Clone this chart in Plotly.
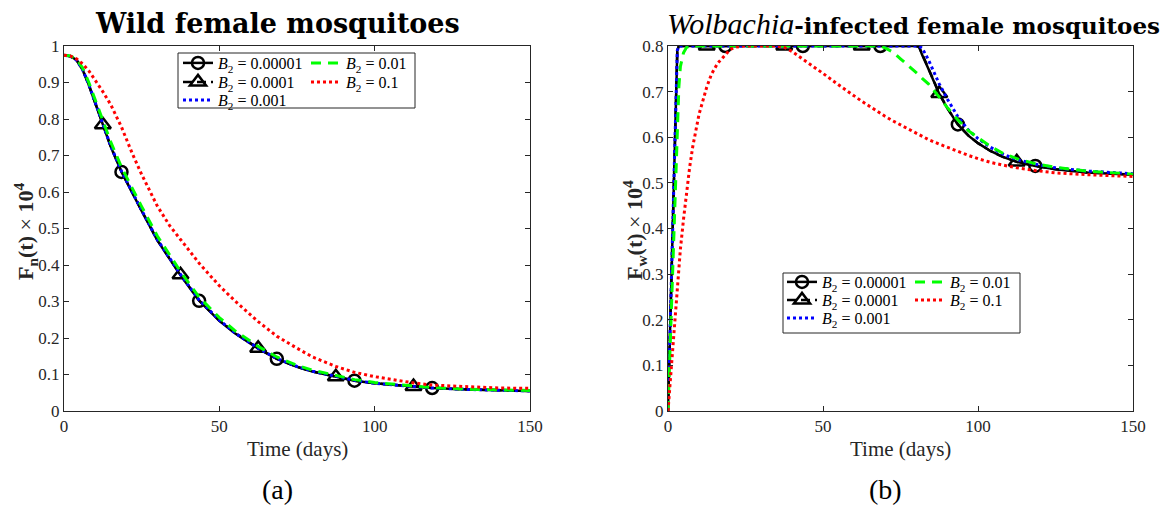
import plotly.graph_objects as go

# ---------------- data ----------------
B2_LABELS = ["<i>B</i><sub>2</sub> = 0.00001", "<i>B</i><sub>2</sub> = 0.0001",
             "<i>B</i><sub>2</sub> = 0.001", "<i>B</i><sub>2</sub> = 0.01",
             "<i>B</i><sub>2</sub> = 0.1"]

# (a) wild female mosquitoes
T_A = [0, 2, 4, 6, 8, 10, 12.5, 15, 18.5, 22, 25, 30, 34, 37.5, 43.5, 50, 55,
       62.5, 68.5, 75, 80, 87.5, 93.5, 100, 112.5, 118.5, 130, 140, 150]
A_B1 = [0.975, 0.972, 0.962, 0.935, 0.893, 0.845, 0.783, 0.725, 0.655, 0.595, 0.548,
        0.468, 0.418, 0.372, 0.302, 0.247, 0.213, 0.171, 0.143, 0.121, 0.108, 0.094,
        0.083, 0.076, 0.067, 0.063, 0.059, 0.056, 0.055]
A_B2 = [0.975, 0.972, 0.962, 0.935, 0.893, 0.845, 0.784, 0.726, 0.656, 0.596, 0.549,
        0.469, 0.419, 0.373, 0.303, 0.248, 0.214, 0.172, 0.143, 0.121, 0.108, 0.094,
        0.083, 0.076, 0.067, 0.063, 0.059, 0.056, 0.055]
A_B3 = [0.975, 0.972, 0.962, 0.935, 0.894, 0.846, 0.785, 0.727, 0.657, 0.597, 0.550,
        0.470, 0.420, 0.374, 0.304, 0.249, 0.214, 0.172, 0.144, 0.122, 0.109, 0.095,
        0.084, 0.076, 0.067, 0.063, 0.059, 0.056, 0.055]
A_B4 = [0.975, 0.973, 0.964, 0.940, 0.900, 0.855, 0.795, 0.738, 0.668, 0.608, 0.560,
        0.480, 0.428, 0.382, 0.312, 0.256, 0.220, 0.177, 0.148, 0.125, 0.112, 0.097,
        0.086, 0.078, 0.068, 0.064, 0.060, 0.057, 0.056]
A_B5 = [0.975, 0.973, 0.965, 0.951, 0.932, 0.908, 0.875, 0.840, 0.778, 0.705, 0.648,
        0.562, 0.508, 0.470, 0.405, 0.343, 0.302, 0.245, 0.205, 0.172, 0.148, 0.122,
        0.106, 0.094, 0.077, 0.071, 0.066, 0.063, 0.062]

# (b) Wolbachia-infected female mosquitoes
T_B = [0, 0.5, 1, 1.5, 2, 2.5, 3, 3.5, 4, 5, 6, 7, 8, 10, 12.5, 14, 16, 18.5, 20, 22,
       25, 30, 35, 37.5, 40, 43.5, 45, 50, 55, 60, 62.5, 65, 68.5, 70, 72.5, 75, 78,
       80, 81, 82, 84, 87.5, 90, 93.5, 97, 100, 104, 108, 112.5, 118.5, 125, 135, 150]
B_B1 = [0, 0.14, 0.29, 0.43, 0.57, 0.70, 0.79, 0.8, 0.8, 0.8, 0.8, 0.8, 0.8, 0.8, 0.8,
        0.8, 0.8, 0.8, 0.8, 0.8, 0.8, 0.8, 0.8, 0.8, 0.8, 0.8, 0.8, 0.8, 0.8, 0.8, 0.8,
        0.8, 0.8, 0.8, 0.8, 0.8, 0.8, 0.8, 0.798, 0.780, 0.750, 0.695, 0.665, 0.628,
        0.603, 0.587, 0.570, 0.557, 0.546, 0.537, 0.530, 0.523, 0.518]
B_B2 = [0, 0.14, 0.29, 0.43, 0.57, 0.70, 0.79, 0.8, 0.8, 0.8, 0.8, 0.8, 0.8, 0.8, 0.8,
        0.8, 0.8, 0.8, 0.8, 0.8, 0.8, 0.8, 0.8, 0.8, 0.8, 0.8, 0.8, 0.8, 0.8, 0.8, 0.8,
        0.8, 0.8, 0.8, 0.8, 0.8, 0.8, 0.8, 0.798, 0.781, 0.751, 0.696, 0.665, 0.628,
        0.603, 0.587, 0.570, 0.557, 0.546, 0.537, 0.530, 0.523, 0.518]
B_B3 = [0, 0.14, 0.29, 0.43, 0.57, 0.70, 0.79, 0.8, 0.8, 0.8, 0.8, 0.8, 0.8, 0.8, 0.8,
        0.8, 0.8, 0.8, 0.8, 0.8, 0.8, 0.8, 0.8, 0.8, 0.8, 0.8, 0.8, 0.8, 0.8, 0.8, 0.8,
        0.8, 0.8, 0.8, 0.8, 0.8, 0.8, 0.8, 0.8, 0.795, 0.770, 0.717, 0.685, 0.645,
        0.615, 0.597, 0.578, 0.563, 0.551, 0.541, 0.533, 0.526, 0.520]
B_B4 = [0, 0.10, 0.21, 0.32, 0.43, 0.54, 0.64, 0.71, 0.755, 0.785, 0.797, 0.8, 0.8,
        0.8, 0.8, 0.8, 0.8, 0.8, 0.8, 0.8, 0.8, 0.8, 0.8, 0.8, 0.8, 0.8, 0.8, 0.8, 0.8,
        0.8, 0.8, 0.8, 0.8, 0.796, 0.787, 0.772, 0.755, 0.742, 0.736, 0.729, 0.717,
        0.688, 0.666, 0.638, 0.614, 0.599, 0.580, 0.565, 0.553, 0.542, 0.534, 0.526,
        0.519]
B_B5 = [0, 0.045, 0.09, 0.135, 0.18, 0.23, 0.275, 0.315, 0.355, 0.42, 0.48, 0.535,
        0.58, 0.65, 0.71, 0.738, 0.762, 0.782, 0.792, 0.798, 0.8, 0.8, 0.8, 0.797,
        0.788, 0.771, 0.764, 0.740, 0.715, 0.690, 0.679, 0.668, 0.652, 0.646, 0.636,
        0.627, 0.615, 0.608, 0.605, 0.601, 0.595, 0.585, 0.578, 0.569, 0.560, 0.553,
        0.545, 0.539, 0.533, 0.527, 0.522, 0.518, 0.514]

CIRCLE_T = [18.5, 43.5, 68.5, 93.5, 118.5]
TRIANGLE_T = [12.5, 37.5, 62.5, 87.5, 112.5]

X_TICKS = [0, 50, 100, 150]
A_Y_TICKS = [0, 0.1, 0.2, 0.3, 0.4, 0.5, 0.6, 0.7, 0.8, 0.9, 1]
B_Y_TICKS = [0, 0.1, 0.2, 0.3, 0.4, 0.5, 0.6, 0.7, 0.8]

# ---------------- styling ----------------
W, H = 1172, 512
SERIF = "Liberation Serif"
AX = "#262626"


def px(x):
    return x / W


def py(y):
    return 1 - y / H


STYLES = [
    dict(color="black", width=2.5, dash="solid", symbol="circle-open", size=12, mt=CIRCLE_T),
    dict(color="black", width=2.5, dash="9px,5px", symbol="triangle-up-open", size=14,
         mt=TRIANGLE_T),
    dict(color="#0000FF", width=3, dash="3px,3px", symbol=None),
    dict(color="#00FF00", width=3, dash="10px,7px", symbol=None),
    dict(color="#FF0000", width=3, dash="3px,3px", symbol=None),
]

fig = go.Figure()


def add_panel(t, series, xa, ya, legs):
    for i, (vals, st) in enumerate(zip(series, STYLES)):
        line = dict(color=st["color"], width=st["width"], dash=st["dash"])
        fig.add_trace(go.Scatter(x=t, y=vals, mode="lines", line=line, xaxis=xa, yaxis=ya,
                                 showlegend=False, hoverinfo="skip"))
        if st["symbol"]:
            mk = dict(symbol=st["symbol"], size=st["size"], color="black",
                      line=dict(color="black", width=2.5))
            idx = [t.index(v) for v in st["mt"]]
            fig.add_trace(go.Scatter(x=[t[k] for k in idx], y=[vals[k] for k in idx],
                                     mode="markers", xaxis=xa, yaxis=ya, showlegend=False,
                                     marker=mk, hoverinfo="skip"))
            fig.add_trace(go.Scatter(x=[None], y=[None], mode="lines+markers", line=line,
                                     marker=mk, name=B2_LABELS[i], legend=legs[i],
                                     xaxis=xa, yaxis=ya))
        else:
            fig.add_trace(go.Scatter(x=[None], y=[None], mode="lines", line=line,
                                     name=B2_LABELS[i], legend=legs[i], xaxis=xa, yaxis=ya))


LEGS_A = ["legend", "legend2", "legend3", "legend4", "legend5"]
LEGS_B = ["legend6", "legend7", "legend8", "legend9", "legend10"]
add_panel(T_A, [A_B1, A_B2, A_B3, A_B4, A_B5], "x", "y", LEGS_A)
add_panel(T_B, [B_B1, B_B2, B_B3, B_B4, B_B5], "x2", "y2", LEGS_B)

axis_common = dict(showline=True, linecolor=AX, linewidth=1, mirror="allticks",
                   ticks="inside", ticklen=5, tickcolor=AX, showgrid=False, zeroline=False,
                   automargin=False, tickfont=dict(family=SERIF, size=17, color=AX))

Y_TOP, Y_BOT = 46, 411
fig.update_layout(
    width=W, height=H, margin=dict(l=0, r=0, t=0, b=0, autoexpand=False),
    paper_bgcolor="white", plot_bgcolor="white",
    xaxis=dict(domain=[px(64), px(530)], range=[0, 150], tickvals=X_TICKS, anchor="y",
               **axis_common),
    yaxis=dict(domain=[py(Y_BOT), py(Y_TOP)], range=[0, 1], tickvals=A_Y_TICKS, anchor="x",
               **axis_common),
    xaxis2=dict(domain=[px(668), px(1133)], range=[0, 150], tickvals=X_TICKS, anchor="y2",
                **axis_common),
    yaxis2=dict(domain=[py(Y_BOT), py(Y_TOP)], range=[0, 0.8], tickvals=B_Y_TICKS,
                anchor="x2", **axis_common),
)

COLS_A, ROWS_A = [218, 346], [63, 82, 100]
COLS_B, ROWS_B = [822, 950], [282, 300, 318]
SLOT = [(0, 0), (0, 1), (0, 2), (1, 0), (1, 1)]
leg_common = dict(bgcolor="rgba(0,0,0,0)", borderwidth=0, itemwidth=30,
                  font=dict(family=SERIF, size=16, color="black"),
                  xanchor="left", yanchor="middle", orientation="v")
legends = {}
for legs, cols, rows in [(LEGS_A, COLS_A, ROWS_A), (LEGS_B, COLS_B, ROWS_B)]:
    for name, (c, r) in zip(legs, SLOT):
        legends[name] = dict(x=px(cols[c] - 40), y=py(rows[r]), **leg_common)
fig.update_layout(**legends)

for (x0, y0, x1, y1) in [(178, 53, 415, 108), (783, 273, 1020, 333)]:
    fig.add_shape(type="rect", xref="paper", yref="paper", x0=px(x0), x1=px(x1),
                  y0=py(y1), y1=py(y0), line=dict(color=AX, width=1),
                  fillcolor="white", layer="above")

ann = []
ann.append(dict(text="<b>Wild female mosquitoes</b>", x=px(277), y=py(23),
                font=dict(family="DejaVu Serif", size=27, color="black")))
ann.append(dict(text="<span style='font-family:Liberation Serif;font-size:30px'><i>Wolbachia</i></span>"
                     "<b>-infected female mosquitoes</b>", x=px(913), y=py(23),
                font=dict(family="DejaVu Serif", size=23, color="black")))
ann.append(dict(text="Time (days)", x=px(297), y=py(449),
                font=dict(family=SERIF, size=21, color=AX)))
ann.append(dict(text="Time (days)", x=px(900), y=py(449),
                font=dict(family=SERIF, size=21, color=AX)))
ann.append(dict(text="<b>F<sub>n</sub>(t)</b> × <b>10<sup>4</sup></b>", x=px(25), y=py(232),
                textangle=-90, font=dict(family=SERIF, size=22, color=AX)))
ann.append(dict(text="<b>F<sub>w</sub>(t)</b> × <b>10<sup>4</sup></b>", x=px(634), y=py(230),
                textangle=-90, font=dict(family=SERIF, size=22, color=AX)))
ann.append(dict(text="(a)", x=px(277), y=py(489),
                font=dict(family=SERIF, size=28, color="black")))
ann.append(dict(text="(b)", x=px(885), y=py(489),
                font=dict(family=SERIF, size=28, color="black")))
for a in ann:
    a.update(xref="paper", yref="paper", xanchor="center", yanchor="middle", showarrow=False)
fig.update_layout(annotations=ann)

fig.write_html("out.html")
